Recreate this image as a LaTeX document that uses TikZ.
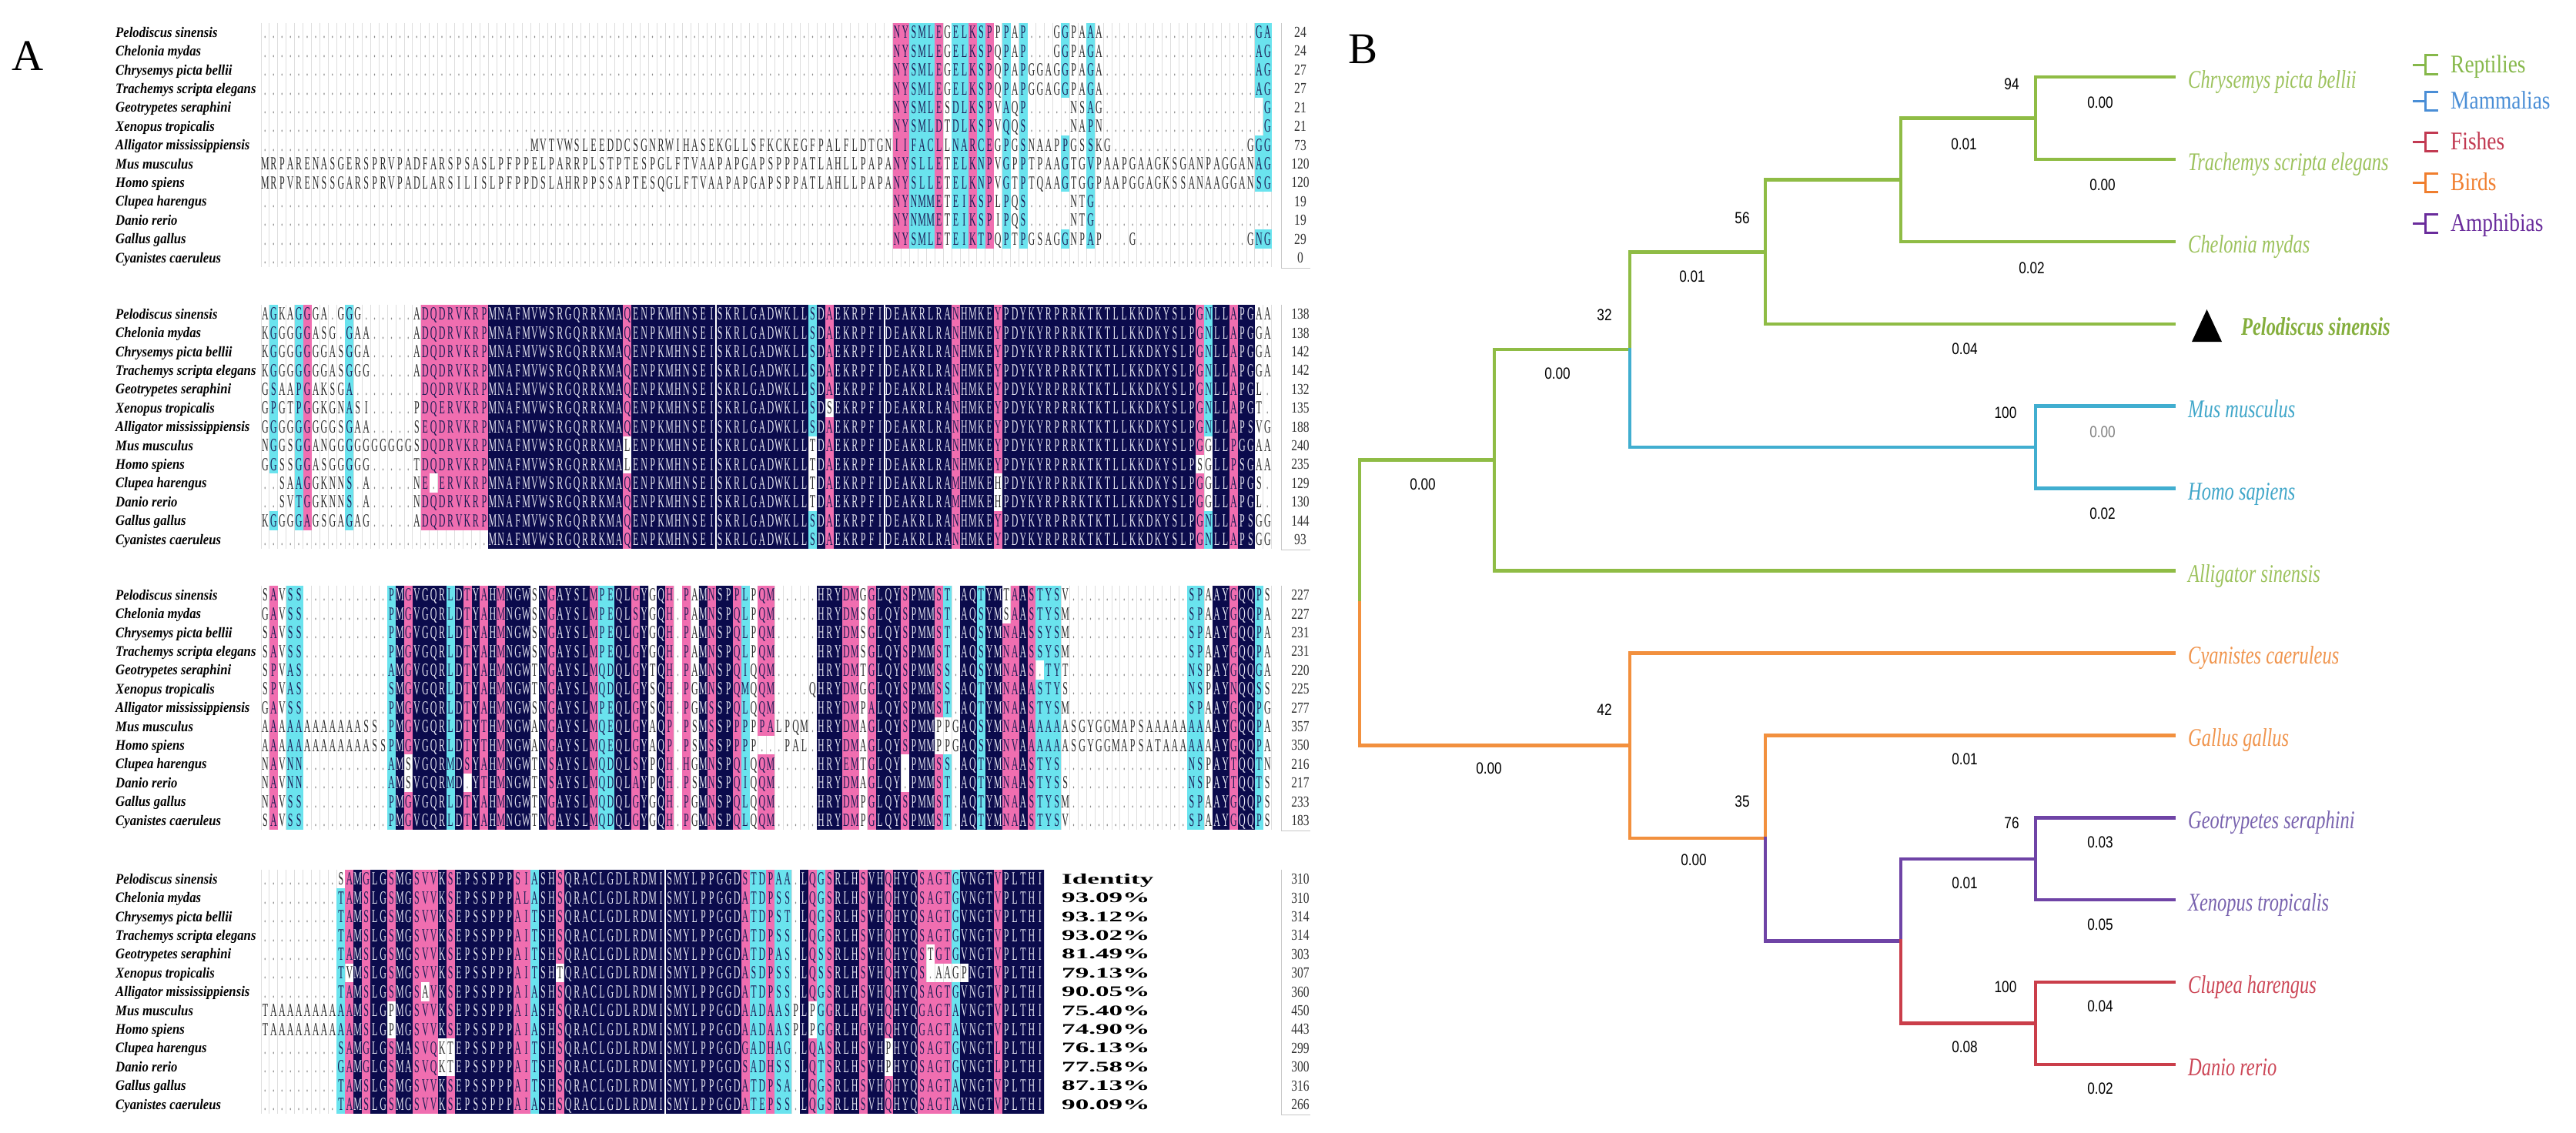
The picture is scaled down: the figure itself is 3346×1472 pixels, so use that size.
\documentclass[tikz,border=0pt]{standalone}
\usepackage{graphicx}
\usepackage{fontspec}
\setmainfont{Liberation Serif}
\newfontfamily\numfont{Liberation Sans}
\ExplSyntaxOn
\cs_new_eq:NN \Rep \prg_replicate:nn
\ExplSyntaxOff
\definecolor{alnavy}{HTML}{0B0B4C}
\definecolor{alpink}{HTML}{F06EB0}
\definecolor{alcyan}{HTML}{6AE3EE}
\definecolor{altext}{HTML}{2A2A2A}
\definecolor{alink}{HTML}{1C1C55}
\definecolor{navytext}{HTML}{E6E6F2}
\definecolor{dotgray}{HTML}{8A8A8A}
\definecolor{gridgray}{HTML}{DEDEDE}
\definecolor{boxgray}{HTML}{C8C8C8}
\definecolor{cgreen}{HTML}{8FBC45}
\definecolor{cblue}{HTML}{41AED0}
\definecolor{corange}{HTML}{F2903E}
\definecolor{cpurple}{HTML}{6F44A6}
\definecolor{cred}{HTML}{CA3E4A}
\definecolor{tgreen}{HTML}{9CC25C}
\definecolor{tblue}{HTML}{3FA6C9}
\definecolor{torange}{HTML}{F0944C}
\definecolor{tpurple}{HTML}{7862AE}
\definecolor{tred}{HTML}{CC4656}
\definecolor{lgreen}{HTML}{86B84A}
\definecolor{lblue}{HTML}{4A8ED6}
\definecolor{lred}{HTML}{C23A52}
\definecolor{lorange}{HTML}{F07E2E}
\definecolor{lpurple}{HTML}{6A2C9C}
\definecolor{pelgreen}{HTML}{84AE3C}
\definecolor{numgray}{HTML}{333333}

\newcount\colno
\newdimen\cw \cw=21.88pt
\newdimen\chh \chh=24.4pt
\newdimen\cdp \cdp=4.25pt
\def\curblk{1}
\def\ccloop#1{\ifx#1\relax\else\advance\colno by 1 \expandafter\def\csname cc\curblk-\the\colno\endcsname{#1}\expandafter\ccloop\fi}
\newcommand\setcc[2]{\def\curblk{#1}\colno=0 \edef\tmpcc{#2}\expandafter\ccloop\tmpcc\relax}
\def\gapcell{\hbox to\cw{\hss\color{dotgray}.\hss}}
\def\plaincell#1{\hbox to\cw{\hss\color{altext}#1\hss}}
\def\bgcell#1#2#3{\hbox to\cw{\rlap{\color{#1}\rule[-\cdp]{\cw}{\chh}}\hss\color{#2}#3\hss}}
\def\colcell#1{\if n\thiscc\bgcell{alnavy}{navytext}{#1}\else\if p\thiscc\bgcell{alpink}{alink}{#1}\else\if c\thiscc\bgcell{alcyan}{alink}{#1}\else\plaincell{#1}\fi\fi\fi}
\def\docell#1{\advance\colno by 1 \ifcsname cc\curblk-\the\colno\endcsname\edef\thiscc{\csname cc\curblk-\the\colno\endcsname}\else\def\thiscc{x}\fi\ifnum`#1=46 \gapcell\else\ifnum`#1>96 \plaincell{\uppercase{#1}}\else\colcell{#1}\fi\fi}
\def\procchars#1{\ifx#1\relax\else\docell#1\expandafter\procchars\fi}
\def\byof#1{\ifcase#1\or42\or408\or773\or1142\fi}
\newcommand\seqrow[3]{\def\curblk{#1}\edef\tmpseq{#3}\node[seqnode] (seq#1-#2) at (339,{\byof{#1}+(#2-1)*24.4+7.95}) {\fontsize{24}{24}\selectfont\scalebox{0.5}[1]{\colno=0 \expandafter\procchars\tmpseq\relax}};}

\newcommand\spl[1]{{\fontsize{19}{19}\selectfont\bfseries\itshape\scalebox{0.88}[1]{#1}}}
\newcommand\nmt[1]{{\fontsize{20}{20}\selectfont\scalebox{0.78}[1]{#1}}}
\newcommand\idt[1]{{\fontsize{19}{19}\selectfont\bfseries\scalebox{1.85}[1]{#1}}}
\newcommand\trnum[1]{{\numfont\fontsize{21}{21}\selectfont\scalebox{0.82}[1]{#1}}}
\newcommand\taxtxt[1]{{\fontsize{33}{33}\selectfont\itshape\scalebox{0.74}[1]{#1}}}
\newcommand\legtxt[1]{{\fontsize{33}{33}\selectfont\scalebox{0.83}[1]{#1}}}

\def\hmgA{MNAFMVWSRGQRRKMAQENPKMHNSEISKRLGADWKLLSDAEKRPFIDEAKRLRANHMKEYPDYKYRPRRKTKTLLKKDKYSLPGNLL}
\def\hmgM{MNAFMVWSRGQRRKMAlENPKMHNSEISKRLGADWKLLtDAEKRPFIDEAKRLRANHMKEYPDYKYRPRRKTKTLLKKDKYSLPGgLL}
\def\hmgH{MNAFMVWSRGQRRKMAlENPKMHNSEISKRLGADWKLLtDAEKRPFIDEAKRLRANHMKEYPDYKYRPRRKTKTLLKKDKYSLPsgLL}
\def\hmgF{MNAFMVWSRGQRRKMAQENPKMHNSEISKRLGADWKLLtDAEKRPFIDEAKRLRAMHMKEhPDYKYRPRRKTKTLLKKDKYSLPGgLL}
\def\hmgX{MNAFMVWSRGQRRKMAQENPKMHNSEISKRLGADWKLLSDsEKRPFIDEAKRLRANHMKEYPDYKYRPRRKTKTLLKKDKYSLPGNLL}

\setcc{1}{\Rep{75}{x} ppcccpxccpcpxcxcxxxxcxxcx \Rep{18}{x} cc}
\setcc{2}{xcxxcpxxxxc \Rep{8}{x} pppppppp \Rep{16}{n} p \Rep{21}{n} c n p \Rep{14}{n} p nnnn p \Rep{23}{n} p c nn p nn xx}
\setcc{3}{xpxcc \Rep{10}{x} cnp nnnn cnpnpnp nnn xnp nnnn pcc nnpnxnp x pxnpnnpcxpp xxxxx nnnppxpnnnpnnnpc x nncnnppnpcccx \Rep{14}{x} ccxnnpnncx}
\setcc{4}{\Rep{9}{x} cpnpnnpnnpppnp \Rep{7}{n} ppcnnp \Rep{21}{n} pccpccx npcpnnnpnnpnnnppppcnnnnpnnnnn}

\tikzset{
  seqnode/.style={inner sep=0pt, outer sep=0pt, anchor=base west},
  splab/.style={inner sep=0pt, anchor=base west, text=black},
  numlab/.style={inner sep=0pt, anchor=base, text=numgray},
  idlab/.style={inner sep=0pt, anchor=base west, text=black},
  gridln/.style={draw=gridgray, line width=0.9pt},
  boxln/.style={draw=boxgray, line width=1pt},
  sepln/.style={draw=white, line width=2.2pt},
  br/.style={line width=4.5pt, line cap=rect, line join=miter},
  gbr/.style={br, draw=cgreen}, bbr/.style={br, draw=cblue}, obr/.style={br, draw=corange},
  pbr/.style={br, draw=cpurple}, rbr/.style={br, draw=cred},
  tnum/.style={inner sep=0pt, anchor=center, text=black},
  taxon/.style={inner sep=0pt, anchor=base west},
  panlab/.style={inner sep=0pt, anchor=base, font=\fontsize{57}{57}\selectfont},
  leglab/.style={inner sep=0pt, anchor=base west}
}

\begin{document}
\begin{tikzpicture}[x=1pt,y=-1pt]
\useasboundingbox (0,0) rectangle (3346,1472);
\fill[white] (0,0) rectangle (3346,1472);

% ---------------- panel A ----------------
\node[panlab] (pA) at (36,92) {A};

\foreach \b/\by/\nc in {1/42/120,2/408/120,3/773/120,4/1142/93}{
  \foreach \k in {0,...,\nc}{\draw[gridln] ({339+\k*10.94},{\by-12.2}) -- ++(0,317.2);}
  \draw[boxln] (1664,{\by-12.2}) -- (1664,{\by+12*24.4+14}) -- (1702,{\by+12*24.4+14});
  \foreach \nm [count=\i] in {Pelodiscus sinensis,Chelonia mydas,Chrysemys picta bellii,Trachemys scripta elegans,Geotrypetes seraphini,Xenopus tropicalis,Alligator mississippiensis,Mus musculus,Homo spiens,Clupea harengus,Danio rerio,Gallus gallus,Cyanistes caeruleus}{
    \node[splab] (lab\b-\i) at (150,{\by+(\i-1)*24.4+6.3}) {\spl{\nm}};}
}

% block 1
\seqrow{1}{1}{\Rep{75}{.}NYSMLEGELKSPPPAP...GGPAAA\Rep{18}{.}GA}
\seqrow{1}{2}{\Rep{75}{.}NYSMLEGELKSPQPAP...GGPAGA\Rep{18}{.}AG}
\seqrow{1}{3}{\Rep{75}{.}NYSMLEGELKSPQPAPGGAGGPAGA\Rep{18}{.}AG}
\seqrow{1}{4}{\Rep{75}{.}NYSMLEGELKSPQPAPGGAGGPAGA\Rep{18}{.}AG}
\seqrow{1}{5}{\Rep{75}{.}NYSMLESDLKSPVAQP.....NSAG\Rep{19}{.}G}
\seqrow{1}{6}{\Rep{75}{.}NYSMLDTDLKSPVQQS.....NAPN\Rep{19}{.}G}
\seqrow{1}{7}{\Rep{32}{.}MVTVWSLEEDDCSGNRWIHASEKGLLSFKCKEGFPALFLDTGNIIFACLLNARCEGPGSNAAPPGSSKG\Rep{16}{.}GGG}
\seqrow{1}{8}{MRPARENASGERSPRVPADFARSPSASLPFPPELPARRPLSTPTESPGLFTVAAPAPGAPSPPPATLAHLLPAPANYSLLETELKNPVGPPTPAAGTGVPAAPGAAGKSGANPAGGANAG}
\seqrow{1}{9}{MRPVRENSSGARSPRVPADLARSILISLPFPPDSLAHRPPSSAPTESQGLFTVAAPAPGAPSPPATLAHLLPAPANYSLLETELKNPVGTPTQAAGTGGPAAPGGAGKSSANAAGGANSG}
\seqrow{1}{10}{\Rep{75}{.}NYNMMETEIKSPLPQS.....NTG\Rep{21}{.}}
\seqrow{1}{11}{\Rep{75}{.}NYNMMETEIKSPIPQS.....NTG\Rep{21}{.}}
\seqrow{1}{12}{\Rep{75}{.}NYSMLETEIKTPQPTPGSAGGNPAP...G\Rep{13}{.}GNG}
\seqrow{1}{13}{\Rep{120}{.}}

% block 2
\seqrow{2}{1}{AGKAGGGA.GGG......ADQDRVKRP\hmgA APGAA}
\seqrow{2}{2}{KGGGGGASG.GAA.....ADQDRVKRP\hmgA APGGA}
\seqrow{2}{3}{KGGGGGGGASGGA.....ADQDRVKRP\hmgA APGGA}
\seqrow{2}{4}{KGGGGGGGASGGG.....ADQDRVKRP\hmgA APGGA}
\seqrow{2}{5}{GSAAPGAKSGA........DQDRVKRP\hmgA APGL.}
\seqrow{2}{6}{GPGTPGGKGNASI.....PDQERVKRP\hmgX APGT.}
\seqrow{2}{7}{GGGGGGGGGSGAA.....SEQDRVKRP\hmgA APSVG}
\seqrow{2}{8}{NGGSGGANGGGGGGGGGGSDQDRVKRP\hmgM PGGAA}
\seqrow{2}{9}{GGSSGGASGGGGG.....TDQDRVKRP\hmgH PSGAA}
\seqrow{2}{10}{..SAAGGKNNS.A.....NE.ERVKRP\hmgF APGS.}
\seqrow{2}{11}{..SVTGGKNNS.A.....NDQDRVKRP\hmgF APGL.}
\seqrow{2}{12}{KGGGGAGSGAGAG.....ADQDRVKRP\hmgA APSGG}
\seqrow{2}{13}{\Rep{27}{.}\hmgA APSGG}

% block 3
\seqrow{3}{1}{SAVSS\Rep{10}{.}PMGVGQRLDTYAHMNGWSNGAYSLMPEQLGYGQH.PAMNSPPLPQM.....HRYDMGGLQYSPMMST.AQTYMtAASTYSV\Rep{14}{.}SPAAYGQQPS}
\seqrow{3}{2}{GAVSS\Rep{10}{.}PMGVGQRLDTYAHMNGWSNGAYSLMPEQLSYGQH.PAMNSPQLPQM.....HRYDMSGLQYSPMMST.AQSYMsAASTYSM\Rep{14}{.}SPAAYGQQPA}
\seqrow{3}{3}{SAVSS\Rep{10}{.}PMGVGQRLDTYAHMNGWSNGAYSLMPEQLGYGQH.PAMNSPQLPQM.....HRYDMSGLQYSPMMST.AQSYMNAASSYSM\Rep{14}{.}SPAAYGQQPA}
\seqrow{3}{4}{SAVSS\Rep{10}{.}PMGVGQRLDTYAHMNGWSNGAYSLMPEQLGYGQH.PAMNSPQLPQM.....HRYDMSGLQYSPMMST.AQSYMNAASSYSM\Rep{14}{.}SPAAYGQQPA}
\seqrow{3}{5}{SPVAS\Rep{10}{.}AMGVGQRLDTYAHMNGWTNGAYSLMQDQLGYTQH.PAMNSPQIQQM.....HRYDMTGLQYSPMMSS.AQSYMNAAS.TYT\Rep{14}{.}NSPAYGQQGA}
\seqrow{3}{6}{SPVAS\Rep{10}{.}SMGVGQRLDTYAHMNGWTNGAYSLMQDQLGYSQH.PGMNSPQMQQM....QHRYDMGGLQYSPMMSS.AQTYMNAAASTYS\Rep{14}{.}NSPAYNQQSS}
\seqrow{3}{7}{GAVSS\Rep{10}{.}PMGVGQRLDTYAHMNGWSNGAYSLMPEQLGYSQH.PGMSSPQLQQM.....HRYDMPALQYSPMMST.AQTYMNAASTYSM\Rep{14}{.}SPAAYGQQPG}
\seqrow{3}{8}{AAAAAAAAAAAASS.PMGVGQRLDTYTHMNGWANGAYSLMQEQLGYAQP.PSMSSPPPPPALPQM.HRYDMAGLQYSPMMppGAQSYMNAAAAAAASGYGGMAPSAAAAAAAAAYGQQPA}
\seqrow{3}{9}{AAAAAAAAAAAAASSPMGVGQRLDTYTHMNGWANGAYSLMQEQLGYAQP.PSMSSPPPP...PAL.HRYDMAGLQYSPMMppGAQSYMNVAAAAAASGYGGMAPSATAAAAAAAYGQQPA}
\seqrow{3}{10}{NAVNN\Rep{10}{.}AMsVGQRMDSYAHMNGWTNSAYSLMQDQLSYPQH.HGMNSPQIQQM.....HRYEMTGLQY.PMMSS.AQTYMNAASTYS.\Rep{14}{.}NSPAYTQQTN}
\seqrow{3}{11}{NAVNN\Rep{10}{.}AMsVGQRMD.YTHMNGWTNSAYSLMQDQLAYPQH.PSMNSPQIQQM.....HRYDMAGLQY.PMMST.AQTYMNAASTYSS\Rep{14}{.}NSPAYTQQTS}
\seqrow{3}{12}{NAVSS\Rep{10}{.}PMGVGQRLDTYAHMNGWTNGAYSLMQDQLGYGQH.PGMNSPQLQQM.....HRYDMPGLQYSPMMST.AQTYMNAASTYSM\Rep{14}{.}SPAAYGQQPS}
\seqrow{3}{13}{SAVSS\Rep{10}{.}PMGVGQRLDTYAHMNGWTNGAYSLMQDQLGYGQH.PGMNSPQLQQM.....HRYDMPGLQYSPMMST.AQTYMNAASTYSV\Rep{14}{.}SPAAYGQQPS}

% block 4
\seqrow{4}{1}{\Rep{9}{.}sAMGLGSMGSVVKSEPSSPPPSIASHSQRACLGDLRDMISMYLPPGGDSTDPAA.LQGSRLHSVHQHYQSAGTGVNGTVPLTHI}
\seqrow{4}{2}{\Rep{9}{.}TAMSLGSMGSVVKSEPSSPPPALASHSQRACLGDLRDMISMYLPPGGDATDPSS.LQGSRLHSVHQHYQSAGTGVNGTVPLTHI}
\seqrow{4}{3}{\Rep{9}{.}TAMSLGSMGSVVKSEPSSPPPAITSHSQRACLGDLRDMISMYLPPGGDATDPST.LQGSRLHSVHQHYQSAGTGVNGTVPLTHI}
\seqrow{4}{4}{\Rep{9}{.}TAMSLGSMGSVVKSEPSSPPPAITSHSQRACLGDLRDMISMYLPPGGDATDPSS.LQGSRLHSVHQHYQSAGTGVNGTVPLTHI}
\seqrow{4}{5}{\Rep{9}{.}TAMSLGSMGSVVKSEPSSPPPAITSHSQRACLGDLRDMISMYLPPGGDATDPAS.LQSSRLHSVHQHYQStGTGVNGTVPLTHI}
\seqrow{4}{6}{\Rep{9}{.}TvMSLGSMGSVVKSEPSSPPPAITSHtQRACLGDLRDMISMYLPPGGDASDPSS.LQSSRLHSVHQHYQS.aagpNGTVPLTHI}
\seqrow{4}{7}{\Rep{9}{.}TAMSLGSMGSaVKSEPSSPPPAIASHSQRACLGDLRDMISMYLPPGGDATDPSS.LQGSRLHSVHQHYQSAGTGVNGTVPLTHI}
\seqrow{4}{8}{TAAAAAAAAAAMSLGpMGSVVKSEPSSPPPAIASHSQRACLGDLRDMISMYLPPGGDAADAASPLpGGRLHGVHQHYQGAGTAVNGTVPLTHI}
\seqrow{4}{9}{TAAAAAAAAAAMSLGpMGSVVKSEPSSPPPAIASHSQRACLGDLRDMISMYLPPGGDAADAASPLpGGRLHGVHQHYQGAGTAVNGTVPLTHI}
\seqrow{4}{10}{\Rep{9}{.}SAMGLGSMASVQktEPSSPPPAITSHSQRACLGDLRDMISMYLPPGGDGADHAG.LQASRLHSVHpHYQSAGTGVNGTLPLTHI}
\seqrow{4}{11}{\Rep{9}{.}GAMGLGSMASVQktEPSSPPPAITSHSQRACLGDLRDMISMYLPPGGDSADHSS.LQTSRLHSVHpHYQSAGTGVNGTLPLTHI}
\seqrow{4}{12}{\Rep{9}{.}TAMSLGSMGSVVKSEPSSPPPAITSHSQRACLGDLRDMISMYLPPGGDATDPSA.LQGSRLHSVHQHYQSAGTAVNGTVPLTHI}
\seqrow{4}{13}{\Rep{9}{.}TAMSLGSMGSVVKSEPSSPPPAIASHSQRACLGDLRDMISMYLPPGGDATEPSS.LQGSRLHSVHQHYQSAGTAVNGTVPLTHI}

% white separators in conserved blocks
\draw[sepln] (929.8,395.8) -- ++(0,317.2);
\draw[sepln] (1148.6,395.8) -- ++(0,317.2);
\draw[sepln] (864.1,1129.8) -- ++(0,317.2);

% counts
\foreach \v [count=\i] in {24,24,27,27,21,21,73,120,120,19,19,29,0}
  \node[numlab] (num1-\i) at (1689,{42+(\i-1)*24.4+6.6}) {\nmt{\v}};
\foreach \v [count=\i] in {138,138,142,142,132,135,188,240,235,129,130,144,93}
  \node[numlab] (num2-\i) at (1689,{408+(\i-1)*24.4+6.6}) {\nmt{\v}};
\foreach \v [count=\i] in {227,227,231,231,220,225,277,357,350,216,217,233,183}
  \node[numlab] (num3-\i) at (1689,{773+(\i-1)*24.4+6.6}) {\nmt{\v}};
\foreach \v [count=\i] in {310,310,314,314,303,307,360,450,443,299,300,316,266}
  \node[numlab] (num4-\i) at (1689,{1142+(\i-1)*24.4+6.6}) {\nmt{\v}};

% identity
\node[idlab] (idh) at (1379,1148.3) {\idt{Identity}};
\foreach \v [count=\i from 2] in {93.09,93.12,93.02,81.49,79.13,90.05,75.40,74.90,76.13,77.58,87.13,90.09}
  \node[idlab] (id\i) at (1379,{1142+(\i-1)*24.4+6.3}) {\idt{\v\%}};

% ---------------- panel B ----------------
\node[panlab] (pB) at (1770,82) {B};

\coordinate (R) at (1766,783);
\coordinate (N1) at (1941,597.5);
\coordinate (N2) at (2117,454);
\coordinate (N3) at (2293,327.4);
\coordinate (N4) at (2469,233.7);
\coordinate (N5) at (2644,153.5);
\coordinate (NM) at (2644,581.2);
\coordinate (N6) at (2117,968.6);
\coordinate (N7) at (2293,1089);
\coordinate (N8) at (2469,1222.6);
\coordinate (NA) at (2644,1115.8);
\coordinate (NF) at (2644,1329.6);
\coordinate (lChr) at (2824,100);
\coordinate (lTra) at (2824,206.9);
\coordinate (lChe) at (2824,313.8);
\coordinate (lPel) at (2824,420.8);
\coordinate (lMus) at (2824,527.7);
\coordinate (lHom) at (2824,634.6);
\coordinate (lAll) at (2824,741.5);
\coordinate (lCya) at (2824,848.4);
\coordinate (lGal) at (2824,955.4);
\coordinate (lGeo) at (2824,1062.3);
\coordinate (lXen) at (2824,1169.2);
\coordinate (lClu) at (2824,1276.1);
\coordinate (lDan) at (2824,1383);

\draw[gbr] (R) |- (N1);
\draw[obr] (R) |- (N6);
\draw[gbr] (N1) |- (N2);
\draw[gbr] (N1) |- (lAll);
\draw[gbr] (N2) |- (N3);
\draw[bbr] (N2) |- (NM);
\draw[gbr] (N3) |- (N4);
\draw[gbr] (N3) |- (lPel);
\draw[gbr] (N4) |- (N5);
\draw[gbr] (N4) |- (lChe);
\draw[gbr] (N5) |- (lChr);
\draw[gbr] (N5) |- (lTra);
\draw[bbr] (NM) |- (lMus);
\draw[bbr] (NM) |- (lHom);
\draw[obr] (N6) |- (lCya);
\draw[obr] (N6) |- (N7);
\draw[obr] (N7) |- (lGal);
\draw[pbr] (N7) |- (N8);
\draw[pbr] (N8) |- (NA);
\draw[rbr] (N8) |- (NF);
\draw[pbr] (NA) |- (lGeo);
\draw[pbr] (NA) |- (lXen);
\draw[rbr] (NF) |- (lClu);
\draw[rbr] (NF) |- (lDan);

% bootstrap values
\node[tnum] (b94) at (2613,109) {\trnum{94}};
\node[tnum] (b56) at (2263,283) {\trnum{56}};
\node[tnum] (b32) at (2084,409) {\trnum{32}};
\node[tnum] (b100a) at (2605,536) {\trnum{100}};
\node[tnum] (b42) at (2084,922) {\trnum{42}};
\node[tnum] (b35) at (2263,1041) {\trnum{35}};
\node[tnum] (b76) at (2613,1069) {\trnum{76}};
\node[tnum] (b100b) at (2605,1282) {\trnum{100}};
% branch lengths
\node[tnum] (e1) at (1848,629) {\trnum{0.00}};
\node[tnum] (e2) at (2023,485) {\trnum{0.00}};
\node[tnum] (e3) at (2198,359) {\trnum{0.01}};
\node[tnum] (e4) at (2551,187) {\trnum{0.01}};
\node[tnum] (e5) at (2728,133) {\trnum{0.00}};
\node[tnum] (e6) at (2731,240) {\trnum{0.00}};
\node[tnum] (e7) at (2639,348) {\trnum{0.02}};
\node[tnum] (e8) at (2552,453) {\trnum{0.04}};
\node[tnum, text=gray] (e9) at (2731,561) {\trnum{0.00}};
\node[tnum] (e10) at (2731,667) {\trnum{0.02}};
\node[tnum] (e11) at (1934,998) {\trnum{0.00}};
\node[tnum] (e12) at (2200,1117) {\trnum{0.00}};
\node[tnum] (e13) at (2552,986) {\trnum{0.01}};
\node[tnum] (e14) at (2552,1147) {\trnum{0.01}};
\node[tnum] (e15) at (2728,1094) {\trnum{0.03}};
\node[tnum] (e16) at (2728,1201) {\trnum{0.05}};
\node[tnum] (e17) at (2552,1360) {\trnum{0.08}};
\node[tnum] (e18) at (2728,1307) {\trnum{0.04}};
\node[tnum] (e19) at (2728,1414) {\trnum{0.02}};

% taxa
\node[taxon, text=tgreen] (tChr) at (2842,114) {\taxtxt{Chrysemys picta bellii}};
\node[taxon, text=tgreen] (tTra) at (2842,221) {\taxtxt{Trachemys scripta elegans}};
\node[taxon, text=tgreen] (tChe) at (2842,328) {\taxtxt{Chelonia mydas}};
\fill[black] (2847,444) -- (2886,444) -- (2866.5,402) -- cycle;
\node[taxon, text=pelgreen] (tPel) at (2911,435) {\taxtxt{\bfseries Pelodiscus sinensis}};
\node[taxon, text=tblue] (tMus) at (2842,542) {\taxtxt{Mus musculus}};
\node[taxon, text=tblue] (tHom) at (2842,649) {\taxtxt{Homo sapiens}};
\node[taxon, text=tgreen] (tAll) at (2842,756) {\taxtxt{Alligator sinensis}};
\node[taxon, text=torange] (tCya) at (2842,862) {\taxtxt{Cyanistes caeruleus}};
\node[taxon, text=torange] (tGal) at (2842,969) {\taxtxt{Gallus gallus}};
\node[taxon, text=tpurple] (tGeo) at (2842,1076) {\taxtxt{Geotrypetes seraphini}};
\node[taxon, text=tpurple] (tXen) at (2842,1183) {\taxtxt{Xenopus tropicalis}};
\node[taxon, text=tred] (tClu) at (2842,1290) {\taxtxt{Clupea harengus}};
\node[taxon, text=tred] (tDan) at (2842,1397) {\taxtxt{Danio rerio}};

% legend
\foreach \nm/\col/\yy [count=\i] in {Reptilies/lgreen/84,Mammalias/lblue/131,Fishes/lred/184,Birds/lorange/237,Amphibias/lpurple/290}{
  \draw[draw=\col, line width=3pt] (3134,\yy) -- (3150,\yy) (3167,{\yy-12}) -- (3150,{\yy-12}) -- (3150,{\yy+12}) -- (3167,{\yy+12});
  \node[leglab, text=\col] (leg\i) at (3183,{\yy+10.9}) {\legtxt{\nm}};
}
\end{tikzpicture}
\end{document}
